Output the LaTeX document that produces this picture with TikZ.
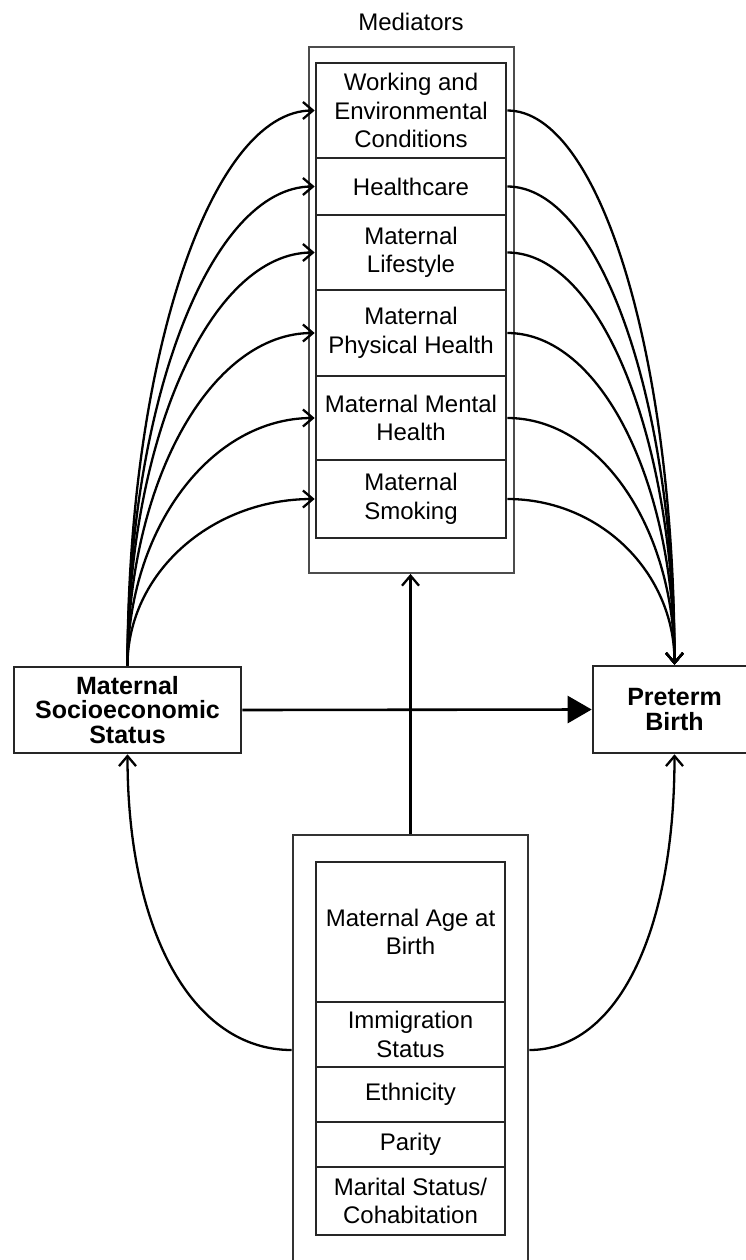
\documentclass[tikz,border=0pt]{standalone}
\usepackage{fontspec}
\setmainfont{Liberation Sans}
\usetikzlibrary{arrows.meta}
\begin{document}
\begin{tikzpicture}[x=1pt,y=1pt,
  cell/.style={draw=black!85, line width=2.6pt, minimum width=190pt, inner sep=0pt, align=center, font=\fontsize{24}{28.5}\selectfont},
  frame/.style={draw=black!80, line width=2.6pt, inner sep=0pt},
  bigbox/.style={draw=black!85, line width=2.6pt, inner sep=0pt, align=center, font=\fontsize{25}{24.5}\selectfont\bfseries},
  conn/.style={line width=2.3pt, -{Straight Barb[length=10pt,width=17pt,line width=2.3pt]}},
  main/.style={line width=2.6pt, -{Triangle[length=24pt,width=27pt]}},
]
\clip (0,0) rectangle (746,-1260);
% mediators
\node[font=\fontsize{24}{28.5}\selectfont] (medlab) at (411,-22) {Mediators};
\node[frame, draw=black!70, line width=1.8pt, minimum width=205pt, minimum height=526pt] (med) at (411.5,-310) {};
\node[cell, minimum height=95pt] (w1) at (411,-110.5) {Working and\\Environmental\\Conditions};
\node[cell, minimum height=57pt] (w2) at (411,-186.5) {Healthcare};
\node[cell, minimum height=75pt] (w3) at (411,-252.5) {Maternal\\Lifestyle};
\node[cell, minimum height=86pt] (w4) at (411,-333) {Maternal\\Physical Health};
\node[cell, minimum height=84pt] (w5) at (411,-418) {Maternal Mental\\Health};
\node[cell, minimum height=78pt] (w6) at (411,-499) {Maternal\\Smoking};
% main boxes
\node[bigbox, minimum width=227pt, minimum height=86pt] (ses) at (127.5,-710) {Maternal\\Socioeconomic\\Status};
\node[bigbox, minimum width=163pt, minimum height=87pt] (pre) at (674.5,-709.5) {Preterm\\Birth};
% confounders
\node[frame, minimum width=235pt, minimum height=430pt] (conf) at (410.5,-1050) {};
\node[cell, minimum width=189pt, minimum height=140pt] (c1) at (410.5,-932) {Maternal Age at\\Birth};
\node[cell, minimum width=189pt, minimum height=65pt] (c2) at (410.5,-1034.5) {Immigration\\Status};
\node[cell, minimum width=189pt, minimum height=55pt] (c3) at (410.5,-1094.5) {Ethnicity};
\node[cell, minimum width=189pt, minimum height=45pt] (c4) at (410.5,-1144.5) {Parity};
\node[cell, minimum width=189pt, minimum height=68pt] (c5) at (410.5,-1201) {Marital Status/\\Cohabitation};
% left curves SES -> mediators
\draw[conn] (ses.north) .. controls +(0,306) and +(-104,0) .. (w1.west);
\draw[conn] (ses.north) .. controls +(0,264) and +(-104,0) .. (w2.west);
\draw[conn] (ses.north) .. controls +(0,228) and +(-104,0) .. (w3.west);
\draw[conn] (ses.north) .. controls +(0,184) and +(-104,0) .. (w4.west);
\draw[conn] (ses.north) .. controls +(0,137) and +(-104,0) .. (w5.west);
\draw[conn] (ses.north) .. controls +(0,92) and +(-104,0) .. (w6.west);
% right curves mediators -> preterm
\draw[conn] (w1.east) .. controls +(93,0) and +(0,306) .. (pre.north);
\draw[conn] (w2.east) .. controls +(93,0) and +(0,264) .. (pre.north);
\draw[conn] (w3.east) .. controls +(93,0) and +(0,227) .. (pre.north);
\draw[conn] (w4.east) .. controls +(93,0) and +(0,183) .. (pre.north);
\draw[conn] (w5.east) .. controls +(93,0) and +(0,136) .. (pre.north);
\draw[conn] (w6.east) .. controls +(93,0) and +(0,92) .. (pre.north);
% main effect
\draw[main] (ses.east) -- (pre.west);
% confounders
\draw[conn] (conf.north) -- (conf.north |- med.south);
\draw[conn] (conf.west) .. controls +(-99,0) and +(0,-178) .. (ses.south);
\draw[conn] (conf.east) .. controls +(88,0) and +(0,-178) .. (pre.south);
\end{tikzpicture}
\end{document}
